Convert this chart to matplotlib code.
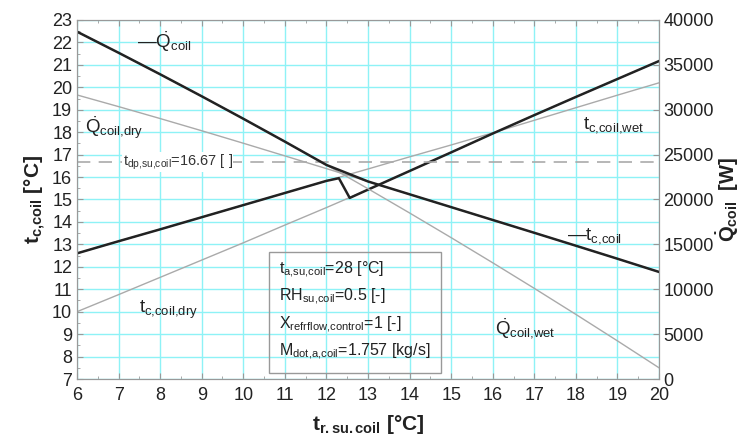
import numpy as np
import matplotlib
matplotlib.use('Agg')
import matplotlib.pyplot as plt
from matplotlib.ticker import MultipleLocator

plt.rcParams['font.family'] = 'Liberation Sans'
plt.rcParams['mathtext.fontset'] = 'custom'
plt.rcParams['mathtext.rm'] = 'Liberation Sans'
plt.rcParams['mathtext.it'] = 'Liberation Sans'
plt.rcParams['mathtext.bf'] = 'Liberation Sans:bold'

# refrigerant supply temperature [C]
t_r = [6, 7, 8, 9, 10, 11, 12, 13, 14, 15, 16, 17, 18, 19, 20]

# coil surface temperatures [C]
t_c_dry = [10.0, 10.76, 11.53, 12.3, 13.07, 13.86, 14.64, 15.44, 16.27, 17.1, 17.94, 18.76, 19.57, 20.37, 21.17]
t_c_wet = [12.6, 13.14, 13.67, 14.21, 14.75, 15.29, 15.83, 16.36, 16.9, 17.43, 17.97, 18.53, 19.09, 19.65, 20.2]

# resulting coil temperature (wet below switch, dry above)
t_r_coil = [6, 7, 8, 9, 10, 11, 12, 12.3, 12.56, 13, 14, 15, 16, 17, 18, 19, 20]
t_c_coil = [12.6, 13.14, 13.67, 14.21, 14.75, 15.29, 15.83, 15.95, 15.07, 15.44, 16.27, 17.1, 17.94, 18.76, 19.57, 20.37, 21.17]

# coil capacities [W]
q_dry = [31650, 30350, 29020, 27660, 26270, 24860, 23440, 22010, 20580, 19150, 17720, 16290, 14850, 13400, 11930]
q_wet = [38700, 36350, 33950, 31500, 29000, 26450, 23850, 21200, 18500, 15750, 12950, 10100, 7200, 4250, 1250]

t_dp = 16.67

fig = plt.figure(figsize=(7.42, 4.36), dpi=100)
ax = fig.add_axes([77 / 742, 57 / 436, 582 / 742, 359 / 436])
ax2 = ax.twinx()

grid_c = '#8ef2f6'
ax.set_xlim(6, 20)
ax.set_ylim(7, 23)
ax2.set_ylim(0, 40000)
ax.xaxis.set_major_locator(MultipleLocator(1))
ax.xaxis.set_minor_locator(MultipleLocator(0.5))
ax.yaxis.set_major_locator(MultipleLocator(1))
ax.yaxis.set_minor_locator(MultipleLocator(0.5))
ax2.yaxis.set_major_locator(MultipleLocator(5000))
ax.grid(True, which='major', color=grid_c, lw=1.0)
ax.set_axisbelow(True)

ax.tick_params(which='both', direction='in', top=True, colors='#999999',
               labelcolor='#222222', labelsize=13)
ax.tick_params(which='major', length=4)
ax.tick_params(which='minor', length=2.5)
ax.tick_params(axis='x', pad=6)
ax2.tick_params(direction='in', colors='#999999', labelcolor='#222222',
                labelsize=13, length=4, pad=3)
for a in (ax, ax2):
    for s in a.spines.values():
        s.set_color('#999999')

thin = '#aaaaaa'
thick = '#222222'
ax.plot(t_r, t_c_dry, color=thin, lw=1.0)
ax.plot(t_r, t_c_wet, color=thin, lw=1.0)
ax2.plot(t_r, q_dry, color=thin, lw=1.0)
ax2.plot(t_r, q_wet, color=thin, lw=1.0)
ax2.plot(t_r, np.maximum(q_dry, q_wet), color=thick, lw=1.8)
ax.plot(t_r_coil, t_c_coil, color=thick, lw=1.8)

ax.axhline(t_dp, color='#aaaaaa', lw=1.2, dashes=(8, 5))
ax.text(7.1, t_dp, r'$t_{dp{,}su{,}coil}$=16.67 [ ]', fontsize=10.5, va='center',
        ha='left', color='#333333',
        bbox=dict(facecolor='white', edgecolor='none', pad=0.5))

lab = dict(fontsize=13.5, color='#222222', va='center', ha='left')
ax.text(7.45, 22.05, r'—$\dot{\mathrm{Q}}_{coil}$', **lab)
ax.text(6.2, 18.2, r'$\dot{\mathrm{Q}}_{coil{,}dry}$', **lab)
ax.text(19.65, 18.3, r'$t_{c{,}coil{,}wet}$', **dict(lab, ha='right'))
ax.text(19.1, 13.35, r'—$t_{c{,}coil}$', **dict(lab, ha='right'))
ax.text(7.5, 10.1, r'$t_{c{,}coil{,}dry}$', **lab)
ax.text(16.05, 9.25, r'$\dot{\mathrm{Q}}_{coil{,}wet}$', **lab)

box = dict(fontsize=11.5, color='#222222', va='center', ha='left')
ax.add_patch(plt.Rectangle((10.62, 7.26), 4.13, 5.4, fill=False,
                           edgecolor='#999999', lw=1.0))
ax.text(10.87, 11.88, r'$t_{a{,}su{,}coil}$=28 [°C]', **box)
ax.text(10.87, 10.68, r'RH$_{su{,}coil}$=0.5 [-]', **box)
ax.text(10.87, 9.43, r'X$_{refrflow{,}control}$=1 [-]', **box)
ax.text(10.87, 8.22, r'M$_{dot{,}a{,}coil}$=1.757 [kg/s]', **box)

ax.set_xlabel(r'$\mathbf{t_{r{.}su{.}coil}}$ [°C]', fontsize=15, fontweight='bold',
              color='#222222', labelpad=6)
ax.set_ylabel(r'$\mathbf{t_{c{,}coil}}$ [°C]', fontsize=15, fontweight='bold',
              color='#222222', labelpad=3)
ax2.set_ylabel(r'$\mathbf{\dot{Q}_{coil}}$  [W]', fontsize=14.5, fontweight='bold',
               color='#222222', labelpad=1)

fig.savefig('out.png', dpi=100)
